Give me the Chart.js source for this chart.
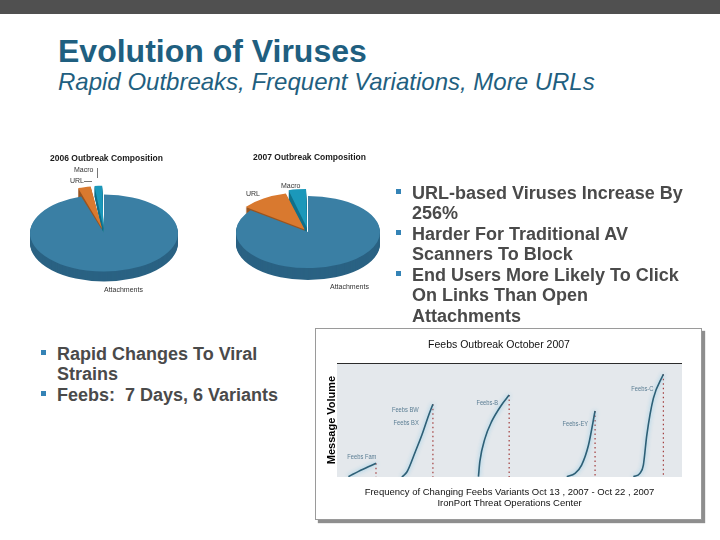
<!DOCTYPE html>
<html>
<head>
<meta charset="utf-8">
<title>Evolution of Viruses</title>
<script src="https://cdn.jsdelivr.net/npm/chart.js"></script>
<style>
    html, body { margin: 0; padding: 0; background: #fff; }
    body { width: 720px; height: 540px; position: relative; overflow: hidden; font-family: "Liberation Sans", Arial, sans-serif; }
    .abs { position: absolute; white-space: nowrap; }
    #topBar { left: 0; top: 0; width: 720px; height: 14px; background: #505050; }
    #slideTitle { left: 58px; top: 35px; font-size: 32px; line-height: 32px; font-weight: bold; color: #1f5f80; }
    #slideSubtitle { left: 58px; top: 70px; font-size: 24px; line-height: 24px; font-style: italic; color: #1f5f80; }
    .bullets { color: #4a4a4a; font-weight: bold; z-index: 3; font-size: 18px; line-height: 20.5px; }
    .bullets div { position: relative; }
    .bullets .sq::before { content: ''; position: absolute; left: -16px; top: 6px; width: 5px; height: 5px; background: #3483b6; }
    #rightBullets { left: 412px; top: 182.5px; }
    #leftBullets { left: 57px; top: 343.5px; }
    .pieTitle { font-size: 8.5px; line-height: 10px; font-weight: bold; color: #1a1a1a; z-index: 2; }
    .pieLabel { font-size: 7px; line-height: 8px; color: #333; z-index: 2; }
    .leader { background: #777; z-index: 2; }
    canvas.pie { position: absolute; z-index: 1; }
    #chartFrame { left: 315px; top: 328px; width: 387px; height: 192px; box-sizing: border-box; border: 1px solid #9a9a9a; background: #fff; box-shadow: 3px 3px 1px #8e8e8e; }
    #feebsChart { position: absolute; left: 0; top: 0; }
</style>
</head>
<body>
<div id="topBar" class="abs"></div>
<div id="slideTitle" class="abs">Evolution of Viruses</div>
<div id="slideSubtitle" class="abs">Rapid Outbreaks, Frequent Variations, More URLs</div>

<canvas id="pie2006" class="pie" width="180" height="180" style="left:14px; top:143px;"></canvas>
<canvas id="pie2007" class="pie" width="180" height="180" style="left:218px; top:142px;"></canvas>

<div class="abs pieTitle" style="left:50px; top:153px;">2006 Outbreak Composition</div>
<div class="abs pieTitle" style="left:253px; top:152px;">2007 Outbreak Composition</div>
<div class="abs pieLabel" style="left:74px; top:166px;">Macro</div>
<div class="abs pieLabel" style="left:70px; top:177px;">URL</div>
<div class="abs leader" style="left:97px; top:168px; width:1px; height:10px;"></div>
<div class="abs leader" style="left:84px; top:181px; width:8px; height:1px;"></div>
<div class="abs pieLabel" style="left:104px; top:286px;">Attachments</div>
<div class="abs pieLabel" style="left:246px; top:190px;">URL</div>
<div class="abs pieLabel" style="left:281px; top:182px;">Macro</div>
<div class="abs pieLabel" style="left:330px; top:283px;">Attachments</div>

<div id="rightBullets" class="abs bullets">
    <div class="sq">URL-based Viruses Increase By</div>
    <div>256%</div>
    <div class="sq">Harder For Traditional AV</div>
    <div>Scanners To Block</div>
    <div class="sq">End Users More Likely To Click</div>
    <div>On Links Than Open</div>
    <div>Attachments</div>
</div>

<div id="leftBullets" class="abs bullets">
    <div class="sq">Rapid Changes To Viral</div>
    <div>Strains</div>
    <div class="sq">Feebs:&nbsp; 7 Days, 6 Variants</div>
</div>

<div id="chartFrame" class="abs">
    <canvas id="feebsChart" width="385" height="190"></canvas>
</div>

<script>
// outbreak composition pies
const pieCategories = ['Attachments', 'URL', 'Macro'];
const share2006 = [95, 3, 2];
const share2007 = [85.3, 10.7, 4];

// Feebs curves: x = position in the Oct 13 - Oct 22 window (0-100), y = relative message volume
const famTime = [3.3, 7.2, 11.3];
const famVolume = [0.3, 6.4, 12.0];
const bwTime = [18.8, 20.3, 22.7, 24.6, 26.6, 27.8];
const bwVolume = [0, 4.6, 22.2, 36.8, 54.4, 63.8];
const bTime = [41.0, 41.4, 42.9, 44.8, 47.7, 49.9];
const bVolume = [0.3, 13.4, 33.9, 48.5, 63.2, 71.9];
const eyTime = [66.6, 69.0, 70.9, 72.9, 74.8];
const eyVolume = [0.3, 3.2, 10.5, 28.1, 57.9];
const cTime = [85.9, 87.8, 88.8, 89.8, 91.7, 94.6];
const cVolume = [0.3, 3.2, 10.5, 36.8, 69.0, 90.1];
const curveLabels = ['Feebs Fam', 'Feebs BW', 'Feebs BX', 'Feebs-B', 'Feebs-EY', 'Feebs-C'];

const pieTopColors = ['#3a7fa4', '#d9792f', '#1b98ba'];
const pieSideColors = ['#2a6283', '#9a5420', '#12708a'];

function squash(ctx, cx, cy, tilt) {
    ctx.translate(cx, cy);
    ctx.scale(1, tilt);
    ctx.translate(-cx, -cy);
}

// same geometry the arc element uses, so the side lines up with the top face
function slicePath(ctx, arc) {
    const shift = (arc.options.offset || 0) / 4;
    const mid = (arc.startAngle + arc.endAngle) / 2;
    const grow = shift * (1 - Math.sin(Math.min(Math.PI, arc.circumference)));
    const r = arc.outerRadius + grow;
    const alpha = arc.endAngle - arc.startAngle;
    const beta = Math.max(0.001, alpha * r - grow / Math.PI) / r;
    const x = arc.x + Math.cos(mid) * shift;
    const y = arc.y + Math.sin(mid) * shift;
    ctx.beginPath();
    ctx.moveTo(x, y);
    ctx.arc(x, y, r, arc.startAngle + (alpha - beta) / 2, arc.endAngle - (alpha - beta) / 2);
    ctx.closePath();
}

const pie3d = {
    id: 'pie3d',
    beforeDatasetsDraw(chart, args, opts) {
        const ctx = chart.ctx;
        const arcs = chart.getDatasetMeta(0).data;
        const cx = arcs[0].x, cy = arcs[0].y;
        for (let d = opts.depth; d > 0; d--) {
            ctx.save();
            ctx.translate(0, d);
            squash(ctx, cx, cy, opts.tilt);
            arcs.forEach((arc, i) => {
                ctx.fillStyle = pieSideColors[i];
                slicePath(ctx, arc);
                ctx.fill();
            });
            ctx.restore();
        }
        ctx.save();
        squash(ctx, cx, cy, opts.tilt);
    },
    afterDatasetsDraw(chart) {
        chart.ctx.restore();
    }
};

function pieConfig(values, offsets, radius, tilt, depth) {
    return {
        type: 'pie',
        data: {
            labels: pieCategories,
            datasets: [{
                data: values,
                backgroundColor: pieTopColors,
                borderWidth: 0,
                offset: offsets,
                radius: radius
            }]
        },
        options: {
            responsive: false,
            animation: false,
            events: [],
            plugins: {
                legend: { display: false },
                tooltip: { enabled: false },
                pie3d: { tilt: tilt, depth: depth }
            }
        },
        plugins: [pie3d]
    };
}

new Chart(document.getElementById('pie2006'), pieConfig(share2006, [0, 36, 36], 74, 0.52, 10));
new Chart(document.getElementById('pie2007'), pieConfig(share2007, [0, 24, 32], 72, 0.5, 12));

// line chart
const curveColor = '#2d5f76';
const markerColor = '#a13b3b';

function curveDataset(times, volumes) {
    return {
        data: times.map((t, i) => ({ x: t, y: volumes[i] })),
        borderColor: curveColor,
        borderWidth: 1.6,
        pointRadius: 0,
        cubicInterpolationMode: 'monotone',
        glow: true
    };
}

function markerDataset(times, volumes) {
    const t = times[times.length - 1];
    const v = volumes[volumes.length - 1];
    return {
        data: [{ x: t, y: v }, { x: t, y: 0 }],
        borderColor: markerColor,
        borderWidth: 1.2,
        borderDash: [1.5, 3],
        pointRadius: 0
    };
}

const plotBackground = {
    id: 'plotBackground',
    beforeDraw(chart) {
        const { ctx, chartArea: a } = chart;
        ctx.save();
        ctx.fillStyle = '#e4e8ec';
        ctx.fillRect(a.left, a.top, a.right - a.left, a.bottom - a.top);
        ctx.strokeStyle = '#2b2b2b';
        ctx.lineWidth = 1.2;
        ctx.beginPath();
        ctx.moveTo(a.left, a.top + 0.5);
        ctx.lineTo(a.right, a.top + 0.5);
        ctx.stroke();
        ctx.restore();
    }
};

const curveGlow = {
    id: 'curveGlow',
    beforeDatasetDraw(chart, args) {
        if (chart.data.datasets[args.index].glow) {
            chart.ctx.save();
            chart.ctx.shadowColor = 'rgba(120, 195, 230, 0.9)';
            chart.ctx.shadowBlur = 4;
        }
    },
    afterDatasetDraw(chart, args) {
        if (chart.data.datasets[args.index].glow) {
            chart.ctx.restore();
        }
    }
};

const curveLabelPlugin = {
    id: 'curveLabels',
    afterDatasetsDraw(chart, args, opts) {
        const ctx = chart.ctx;
        opts.items.forEach(item => {
            const pt = chart.getDatasetMeta(item.dataset).data[item.point];
            ctx.save();
            ctx.translate(pt.x + item.dx, pt.y + item.dy);
            ctx.scale(0.72, 1);
            ctx.font = '8px "Liberation Sans", Arial, sans-serif';
            ctx.fillStyle = '#5a7d93';
            ctx.textBaseline = 'middle';
            ctx.textAlign = item.align;
            ctx.fillText(item.text, 0, 0);
            ctx.restore();
        });
    }
};

new Chart(document.getElementById('feebsChart'), {
    type: 'line',
    data: {
        datasets: [
            curveDataset(famTime, famVolume),
            curveDataset(bwTime, bwVolume),
            curveDataset(bTime, bVolume),
            curveDataset(eyTime, eyVolume),
            curveDataset(cTime, cVolume),
            markerDataset(famTime, famVolume),
            markerDataset(bwTime, bwVolume),
            markerDataset(bTime, bVolume),
            markerDataset(eyTime, eyVolume),
            markerDataset(cTime, cVolume)
        ]
    },
    options: {
        responsive: false,
        animation: false,
        events: [],
        layout: { padding: { right: 19 } },
        scales: {
            x: {
                type: 'linear',
                min: 0,
                max: 100,
                grid: { display: false },
                border: { display: false },
                ticks: { display: false },
                title: {
                    display: true,
                    text: ['Frequency of Changing Feebs Variants Oct 13 , 2007 - Oct 22 , 2007', 'IronPort Threat Operations Center'],
                    color: '#111',
                    font: { size: 9.5, family: '"Liberation Sans", Arial, sans-serif' },
                    padding: { top: 0, bottom: 10 }
                },
                afterFit: scale => { scale.height = 42; }
            },
            y: {
                min: 0,
                max: 100,
                grid: { display: false },
                border: { display: false },
                ticks: { display: false },
                title: {
                    display: true,
                    text: 'Message Volume',
                    color: '#000',
                    font: { size: 11, weight: 'bold', family: '"Liberation Sans", Arial, sans-serif' },
                    padding: { top: 9, bottom: 0 }
                },
                afterFit: scale => { scale.width = 21; }
            }
        },
        plugins: {
            legend: { display: false },
            tooltip: { enabled: false },
            title: {
                display: true,
                text: 'Feebs Outbreak October 2007',
                color: '#111',
                font: { size: 10.5, weight: 'normal', family: '"Liberation Sans", Arial, sans-serif' },
                padding: { top: 9.7, bottom: 11.7 }
            },
            curveLabels: {
                items: [
                    { text: curveLabels[0], dataset: 0, point: 1, dx: 0, dy: -13, align: 'center' },
                    { text: curveLabels[1], dataset: 1, point: 4, dx: -10, dy: -5, align: 'right' },
                    { text: curveLabels[2], dataset: 1, point: 4, dx: -10, dy: 8, align: 'right' },
                    { text: curveLabels[3], dataset: 2, point: 5, dx: -11, dy: 8, align: 'right' },
                    { text: curveLabels[4], dataset: 3, point: 4, dx: -7, dy: 13, align: 'right' },
                    { text: curveLabels[5], dataset: 4, point: 5, dx: -10, dy: 15, align: 'right' }
                ]
            }
        }
    },
    plugins: [plotBackground, curveGlow, curveLabelPlugin]
});
</script>
</body>
</html>
